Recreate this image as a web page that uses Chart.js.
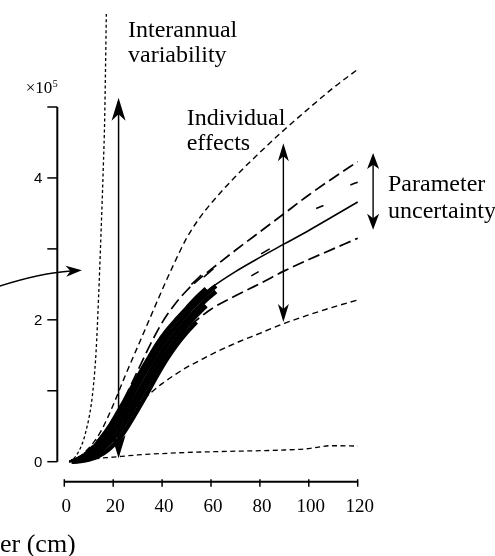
<!DOCTYPE html>
<html><head><meta charset="utf-8">
<script src="https://cdn.jsdelivr.net/npm/chart.js@4/dist/chart.umd.min.js"></script>
<style>html,body{margin:0;padding:0;background:#fff;}canvas{display:block;}</style>
</head><body>
<canvas id="c" width="495" height="556"></canvas>
<script>
// ---- data (y in units of 1e5) ----
const xGrid      = [2, 5, 10, 15, 20, 25, 30, 35, 40, 45, 50, 55, 60, 70, 80, 90, 100, 110, 120];
const indivUpper = [0, 0.04, 0.19, 0.43, 0.8, 1.22, 1.62, 2.02, 2.42, 2.8, 3.15, 3.42, 3.64, 4.02, 4.36, 4.68, 4.98, 5.27, 5.53];
const paramUpper = [0, 0.04, 0.17, 0.36, 0.6, 0.92, 1.28, 1.64, 1.96, 2.21, 2.41, 2.57, 2.71, 2.98, 3.24, 3.5, 3.76, 4.0, 4.23];
const central    = [0, 0.03, 0.12, 0.3, 0.52, 0.8, 1.1, 1.41, 1.7, 1.95, 2.15, 2.31, 2.45, 2.68, 2.88, 3.07, 3.26, 3.46, 3.66];
const paramLower = [0, 0.02, 0.08, 0.19, 0.38, 0.66, 0.95, 1.22, 1.47, 1.69, 1.87, 2.02, 2.15, 2.34, 2.51, 2.69, 2.85, 3.0, 3.15];
const indivLower = [0, 0.02, 0.09, 0.22, 0.4, 0.61, 0.8, 0.96, 1.1, 1.22, 1.33, 1.42, 1.51, 1.67, 1.81, 1.95, 2.07, 2.18, 2.28];

const interLowerX = [2, 5, 10, 15, 20, 30, 40, 50, 60, 70, 80, 90, 100, 105, 108, 112, 120];
const interLowerY = [0, 0.015, 0.035, 0.05, 0.065, 0.095, 0.115, 0.13, 0.14, 0.148, 0.155, 0.165, 0.185, 0.21, 0.225, 0.225, 0.22];
const interUpperX = [2, 4, 6, 8, 9, 10, 11, 12, 13, 14, 15, 16, 16.5, 17.2];
const interUpperY = [0, 0.05, 0.15, 0.32, 0.45, 0.6, 0.8, 1.1, 1.55, 2.3, 3.2, 4.2, 4.8, 6.32];

// observed trajectories (dense black band)
const trajX = [3, 6, 10, 14, 18, 22, 26, 30, 34, 38, 42, 46, 50, 54, 58, 62];
const traj1 = [0, 0.045, 0.13, 0.28, 0.47, 0.70, 0.94, 1.19, 1.43, 1.66, 1.85, 2.01, 2.16, 2.31, 2.44];
const traj2 = [0, 0.035, 0.105, 0.23, 0.40, 0.60, 0.83, 1.08, 1.32, 1.55, 1.75, 1.92, 2.08, 2.23, 2.36, 2.48];
const traj3 = [0, 0.025, 0.08, 0.18, 0.32, 0.50, 0.72, 0.96, 1.20, 1.44, 1.65, 1.83, 1.99, 2.14, 2.28, 2.40];
const traj4 = [0, 0.015, 0.06, 0.13, 0.25, 0.40, 0.61, 0.85, 1.09, 1.33, 1.55, 1.74, 1.91, 2.06, 2.20];
const traj5 = [0, 0.005, 0.03, 0.08, 0.17, 0.30, 0.50, 0.73, 0.97, 1.22, 1.45, 1.65, 1.82, 1.97];
const fragX = [52, 56, 56.5, 57, 61, 68, 76.5, 79.5, 80, 80.5, 84, 90, 103, 106, 110, 117, 120];
const fragY = [2.5, 2.63, null, 2.6, 2.72, null, 2.62, 2.68, null, 2.93, 3.0, null, 3.57, 3.61, null, 3.9, 3.94];

const xTicks = [0, 20, 40, 60, 80, 100, 120];
const yTicks = [0, 1, 2, 3, 4, 5];
const yTickLabels = ['0', '', '2', '', '4', ''];

// annotation arrows [x, yFrom, yTo] in data units
const arrowInterannual = [22.2, 0.05, 5.13];
const arrowIndividual  = [89.6, 1.97, 4.49];
const arrowParameter   = [126.3, 3.27, 4.35];
const curvedArrow      = [[-27, 2.47], [-10, 2.66], [7.2, 2.70]];

const pts = (xs, ys) => ys.map((y, i) => ({x: xs[i], y: y}));
const K = '#000';
function ds(data, w, dash) {
  return {data: data, borderColor: K, borderWidth: w, borderDash: dash || [], pointRadius: 0,
          fill: false, clip: false, spanGaps: false, cubicInterpolationMode: 'monotone'};
}

function head(ctx, tx, ty, dx, dy, len, hw) {
  const n = Math.hypot(dx, dy); dx /= n; dy /= n;
  const bx = tx - dx * len, by = ty - dy * len;
  const nx = tx - dx * len * 0.72, ny = ty - dy * len * 0.72;
  ctx.beginPath();
  ctx.moveTo(tx, ty);
  ctx.lineTo(bx - dy * hw, by + dx * hw);
  ctx.lineTo(nx, ny);
  ctx.lineTo(bx + dy * hw, by - dx * hw);
  ctx.closePath(); ctx.fill();
}

const overlay = {
  id: 'overlay',
  afterDraw(chart) {
    const ctx = chart.ctx, xs = chart.scales.x, ys = chart.scales.y, ca = chart.chartArea;
    const px = v => xs.getPixelForValue(v), py = v => ys.getPixelForValue(v);
    ctx.save();
    ctx.strokeStyle = K; ctx.fillStyle = K; ctx.setLineDash([]);
    // y axis
    ctx.lineWidth = 2;
    ctx.beginPath(); ctx.moveTo(ca.left, py(yTicks[0])); ctx.lineTo(ca.left, py(yTicks[yTicks.length-1])); ctx.stroke();
    ctx.lineWidth = 1.5;
    ctx.font = '15px "Liberation Sans", Arial, sans-serif';
    ctx.textAlign = 'right'; ctx.textBaseline = 'alphabetic';
    yTicks.forEach((t, i) => {
      const y = py(t);
      ctx.beginPath(); ctx.moveTo(ca.left - 10, y); ctx.lineTo(ca.left, y); ctx.stroke();
      if (yTickLabels[i]) ctx.fillText(yTickLabels[i], ca.left - 15, y + 5.3);
    });
    // x axis
    ctx.lineWidth = 2;
    ctx.beginPath(); ctx.moveTo(px(xTicks[0]), ca.bottom); ctx.lineTo(px(xTicks[xTicks.length-1]), ca.bottom); ctx.stroke();
    ctx.lineWidth = 1.5;
    ctx.font = '19px "Liberation Serif", "Times New Roman", serif';
    ctx.textAlign = 'center';
    xTicks.forEach(t => {
      const x = px(t);
      ctx.beginPath(); ctx.moveTo(x, ca.bottom - 2.5); ctx.lineTo(x, ca.bottom + 5); ctx.stroke();
      ctx.fillText(String(t), x + 2, ca.bottom + 30.5);
    });
    // axis title (cut off at left edge)
    ctx.textAlign = 'left';
    ctx.font = '26px "Liberation Serif", "Times New Roman", serif';
    ctx.fillText('er (cm)', 0, ca.bottom + 70.5);
    // exponent label
    ctx.font = '17px "Liberation Serif", "Times New Roman", serif';
    ctx.textAlign = 'right';
    ctx.fillText('\u00d710', ca.left - 5, py(5) - 14);
    ctx.textAlign = 'left';
    ctx.font = '10px "Liberation Serif", "Times New Roman", serif';
    ctx.fillText('5', ca.left - 4.5, py(5) - 20);

    // vertical double arrows
    function vArrow(a, len, hw, lw) {
      const x = px(a[0]), yb = py(a[1]), yt = py(a[2]);
      ctx.lineWidth = lw;
      ctx.beginPath(); ctx.moveTo(x, yt + len * 0.7); ctx.lineTo(x, yb - len * 0.7); ctx.stroke();
      head(ctx, x, yt, 0, -1, len, hw);
      head(ctx, x, yb, 0, 1, len, hw);
    }
    vArrow(arrowInterannual, 23, 7, 1.5);
    vArrow(arrowIndividual, 18, 5.5, 1.4);
    vArrow(arrowParameter, 16, 6, 1.4);

    // curved arrow
    const P0 = [px(curvedArrow[0][0]), py(curvedArrow[0][1])];
    const C  = [px(curvedArrow[1][0]), py(curvedArrow[1][1])];
    const P2 = [px(curvedArrow[2][0]), py(curvedArrow[2][1])];
    let dx = P2[0] - C[0], dy = P2[1] - C[1]; const dn = Math.hypot(dx, dy); dx /= dn; dy /= dn;
    ctx.lineWidth = 1.5;
    ctx.beginPath(); ctx.moveTo(P0[0], P0[1]);
    ctx.quadraticCurveTo(C[0], C[1], P2[0] - dx * 11, P2[1] - dy * 11); ctx.stroke();
    head(ctx, P2[0], P2[1], dx, dy, 16, 5.5);

    // annotation texts
    ctx.font = '24px "Liberation Serif", "Times New Roman", serif';
    ctx.textAlign = 'left';
    ctx.fillText('Interannual', px(26.05), py(5.99));
    ctx.fillText('variability', px(26.05), py(5.63));
    ctx.fillText('Individual', px(50.06), py(4.75));
    ctx.fillText('effects', px(50.06), py(4.39));
    ctx.fillText('Parameter', px(132.4), py(3.81));
    ctx.fillText('uncertainty', px(132.4), py(3.43));
    ctx.restore();
  }
};

new Chart(document.getElementById('c'), {
  type: 'line',
  data: {
    datasets: [
      ds(pts(interUpperX, interUpperY), 1.3, [3, 2.5]),
      ds(pts(interLowerX, interLowerY), 1.3, [5, 3.5]),
      ds(pts(trajX, traj1), 4.5),
      ds(pts(trajX, traj2), 4.5),
      ds(pts(trajX, traj3), 4.5),
      ds(pts(trajX, traj4), 4.5),
      ds(pts(trajX, traj5), 4.5),
      ds(pts(fragX, fragY), 1.6),
      ds(pts(xGrid, indivUpper), 1.4, [6, 4]),
      ds(pts(xGrid, paramUpper), 1.7, [12, 5]),
      ds(pts(xGrid, central), 1.6),
      ds(pts(xGrid, paramLower), 1.7, [12, 5]),
      ds(pts(xGrid, indivLower), 1.4, [6, 4])
    ]
  },
  options: {
    responsive: false, animation: false, devicePixelRatio: 1,
    layout: {padding: {left: 57.3, right: 137.3, top: 107, bottom: 74.3}},
    scales: {
      x: {type: 'linear', min: -2.86, max: 120, display: false},
      y: {type: 'linear', min: -0.282, max: 5, display: false}
    },
    plugins: {legend: {display: false}, tooltip: {enabled: false}}
  },
  plugins: [overlay]
});
</script>
</body></html>
